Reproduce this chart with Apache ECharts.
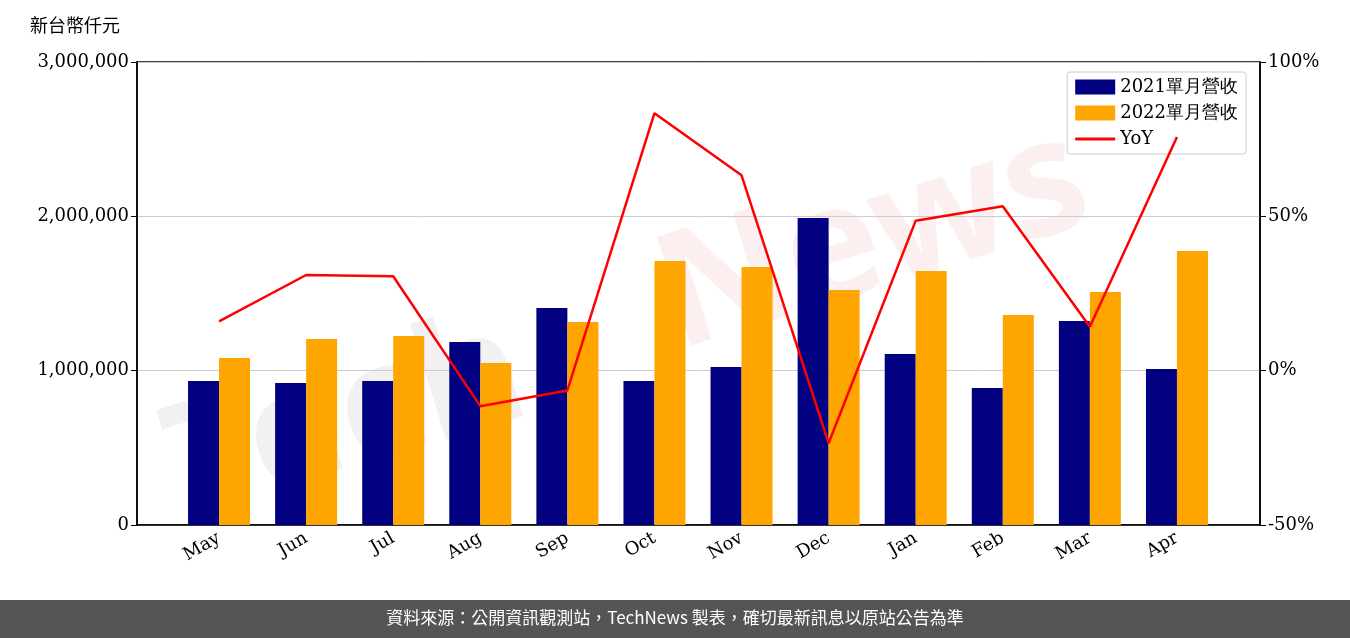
<!DOCTYPE html>
<html><head><meta charset="utf-8">
<script src="https://cdn.jsdelivr.net/npm/echarts@6/dist/echarts.min.js"></script>
<style>html,body{margin:0;padding:0;background:#fff}#c{width:1350px;height:638px}</style>
</head><body><div id="c"></div>
<script>
var months = ['May','Jun','Jul','Aug','Sep','Oct','Nov','Dec','Jan','Feb','Mar','Apr'];
var rev2021 = [933000,920000,933000,1186000,1406000,933000,1024000,1990000,1108000,888000,1322000,1011000];
var rev2022 = [1082000,1205000,1225000,1050000,1316000,1711000,1672000,1523000,1646000,1361000,1510000,1776000];
var yoy = [16.0,31.0,30.6,-11.5,-6.4,83.4,63.3,-23.5,48.6,53.3,14.2,75.7];

var serif = 'DejaVu Serif';
var chart = echarts.init(document.getElementById('c'));
chart.setOption({
    animation: false,
    textStyle: {fontFamily: serif},
    graphic: [
        {type: 'text', left: 30, top: 16, style: {text: '新台幣仟元', font: '18px "Noto Sans CJK TC"', fill: '#000'}},
        {type: 'text', x: 150, y: 400, rotation: 0.3, z: -10, style: {text: 'Tech', font: 'bold 160px "Noto Sans"', fill: 'rgba(150,150,150,0.13)'}},
        {type: 'text', x: 640, y: 230, rotation: 0.3, z: -10, style: {text: 'News', font: 'bold 160px "Noto Sans"', fill: 'rgba(230,120,120,0.12)'}},
        {type: 'rect', left: 0, top: 600, shape: {width: 1350, height: 38}, style: {fill: '#555'}},
        {type: 'text', left: 'center', top: 609, style: {text: '資料來源：公開資訊觀測站，TechNews 製表，確切最新訊息以原站公告為準', font: '17px "Noto Sans CJK TC"', fill: '#fff'}}
    ],
    legend: {
        right: 104, top: 72, orient: 'vertical', itemGap: 8, itemWidth: 40, itemHeight: 15,
        backgroundColor: '#fff', borderColor: '#ccc', borderWidth: 1, borderRadius: 3, padding: [6, 8],
        textStyle: {fontFamily: serif, fontSize: 18, color: '#000'},
        data: [{name: '2021單月營收', icon: 'rect'}, {name: '2022單月營收', icon: 'rect'},
               {name: 'YoY', icon: 'path://M0,7h40v3h-40z', itemStyle: {color: '#f00'}}]
    },
    grid: [
        {left: 175.5, right: 129.5, top: 62, bottom: 113},
        {left: 137, right: 90, top: 62, bottom: 113, show: true, borderColor: '#000', borderWidth: 1.5, backgroundColor: 'transparent'}
    ],
    xAxis: [
        {type: 'category', data: months, gridIndex: 0,
         axisLine: {show: false},
         axisTick: {alignWithLabel: true, length: 6, lineStyle: {color: '#000'}},
         axisLabel: {rotate: 30, fontSize: 18, color: '#000', margin: 12}},
        {type: 'value', gridIndex: 1, min: 0, max: 1, show: true,
         axisLine: {show: true, lineStyle: {color: '#000', width: 1.5}},
         axisTick: {show: false}, axisLabel: {show: false}, splitLine: {show: false}}
    ],
    yAxis: [
        {type: 'value', gridIndex: 0, min: 0, max: 3000000, show: false, splitLine: {show: false}},
        {type: 'value', gridIndex: 0, min: -50, max: 100, show: false, splitLine: {show: false}},
        {type: 'value', gridIndex: 1, min: 0, max: 3000000, interval: 1000000,
         axisLine: {show: true, lineStyle: {color: '#000', width: 1.5}},
         axisTick: {show: true, length: 6},
         splitLine: {lineStyle: {color: '#ccc'}},
         axisLabel: {fontSize: 18, color: '#000', formatter: function (v) { return v.toLocaleString('en-US'); }}},
        {type: 'value', gridIndex: 1, position: 'right', min: -50, max: 100, interval: 50,
         axisLine: {show: true, lineStyle: {color: '#000', width: 1.5}},
         axisTick: {show: true, length: 6}, splitLine: {show: false},
         axisLabel: {fontSize: 18, color: '#000', formatter: '{value}%'}}
    ],
    series: [
        {name: '2021單月營收', type: 'bar', xAxisIndex: 0, yAxisIndex: 0, data: rev2021, barWidth: 31, barGap: '0%', itemStyle: {color: '#000080'}},
        {name: '2022單月營收', type: 'bar', xAxisIndex: 0, yAxisIndex: 0, data: rev2022, barWidth: 31, itemStyle: {color: '#ffa500'}},
        {name: 'YoY', type: 'line', xAxisIndex: 0, yAxisIndex: 1, data: yoy, symbol: 'none', z: 5, lineStyle: {color: '#f00', width: 2.5}, itemStyle: {color: '#f00'}}
    ]
});
</script></body></html>
